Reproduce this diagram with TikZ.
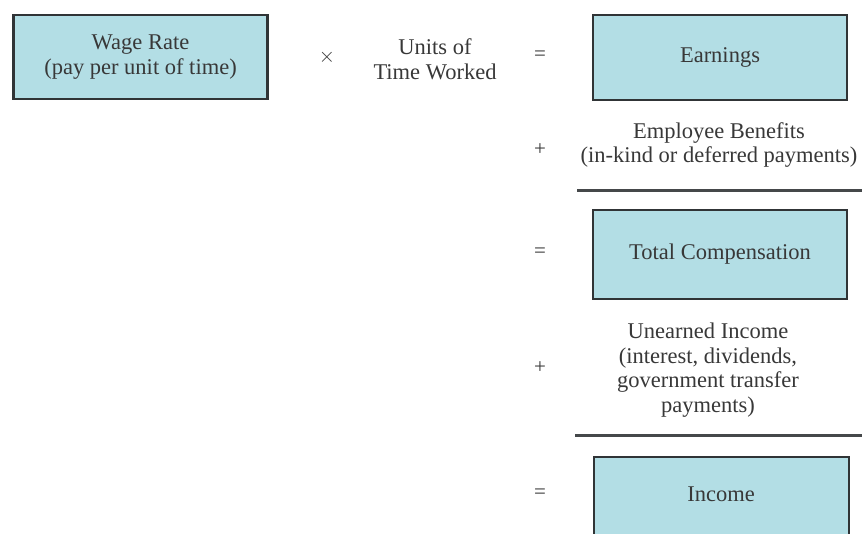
\documentclass[tikz,border=0pt]{standalone}
\usepackage{fontspec}
\setmainfont{Liberation Serif}
\definecolor{boxfill}{HTML}{B3DEE5}
\definecolor{boxline}{HTML}{303436}
\definecolor{txt}{HTML}{383838}
\begin{document}
\begin{tikzpicture}[x=1pt,y=-1pt,
  every node/.style={text=txt, font=\fontsize{22.5}{24.5}\selectfont, align=center, inner sep=0pt},
  termbox/.style={draw=boxline, line width=2.6pt, fill=boxfill, minimum width=254pt, anchor=center},
  opsym/.style={font=\fontsize{21}{24}\selectfont},
  rule/.style={draw=boxline!90, line width=3pt}]
\useasboundingbox[fill=white] (0,0) rectangle (862,533);
\clip (0,0) rectangle (862,533);
% boxes
\node[termbox, minimum height=84pt] (wage) at (140.5,57) {Wage Rate\\(pay per unit of time)};
\node[termbox, minimum height=85pt] (earn) at (720,57.5) {Earnings};
\node[termbox, minimum height=89pt] (tc) at (720,254.5) {Total Compensation};
\node[termbox, minimum height=110pt, minimum width=255pt] (incbox) at (721.5,512) {};
\node (inc) at (721,494) {Income};
% operators and terms
\node[opsym] (times) at (327,57) {$\times$};
\node (units) at (435,59) {Units of\\Time Worked};
\node[opsym] (eq1) at (540,56) {=};
\node[opsym] (plus1) at (540,150) {+};
\node (benefits) at (719,145) {Employee Benefits\\(in-kind or deferred payments)};
\node[opsym] (eq2) at (540,253) {=};
\node[opsym] (plus2) at (540,368) {+};
\node (unearned) at (708,370) {Unearned Income\\(interest, dividends,\\government transfer\\payments)};
\node[opsym] (eq3) at (540,494) {=};
% rules
\coordinate (r1a) at (577,190);
\coordinate (r1b) at (862,190);
\coordinate (r2a) at (575,435);
\coordinate (r2b) at (862,435);
\draw[rule] (r1a) -- (r1b);
\draw[rule] (r2a) -- (r2b);
\end{tikzpicture}
\end{document}
